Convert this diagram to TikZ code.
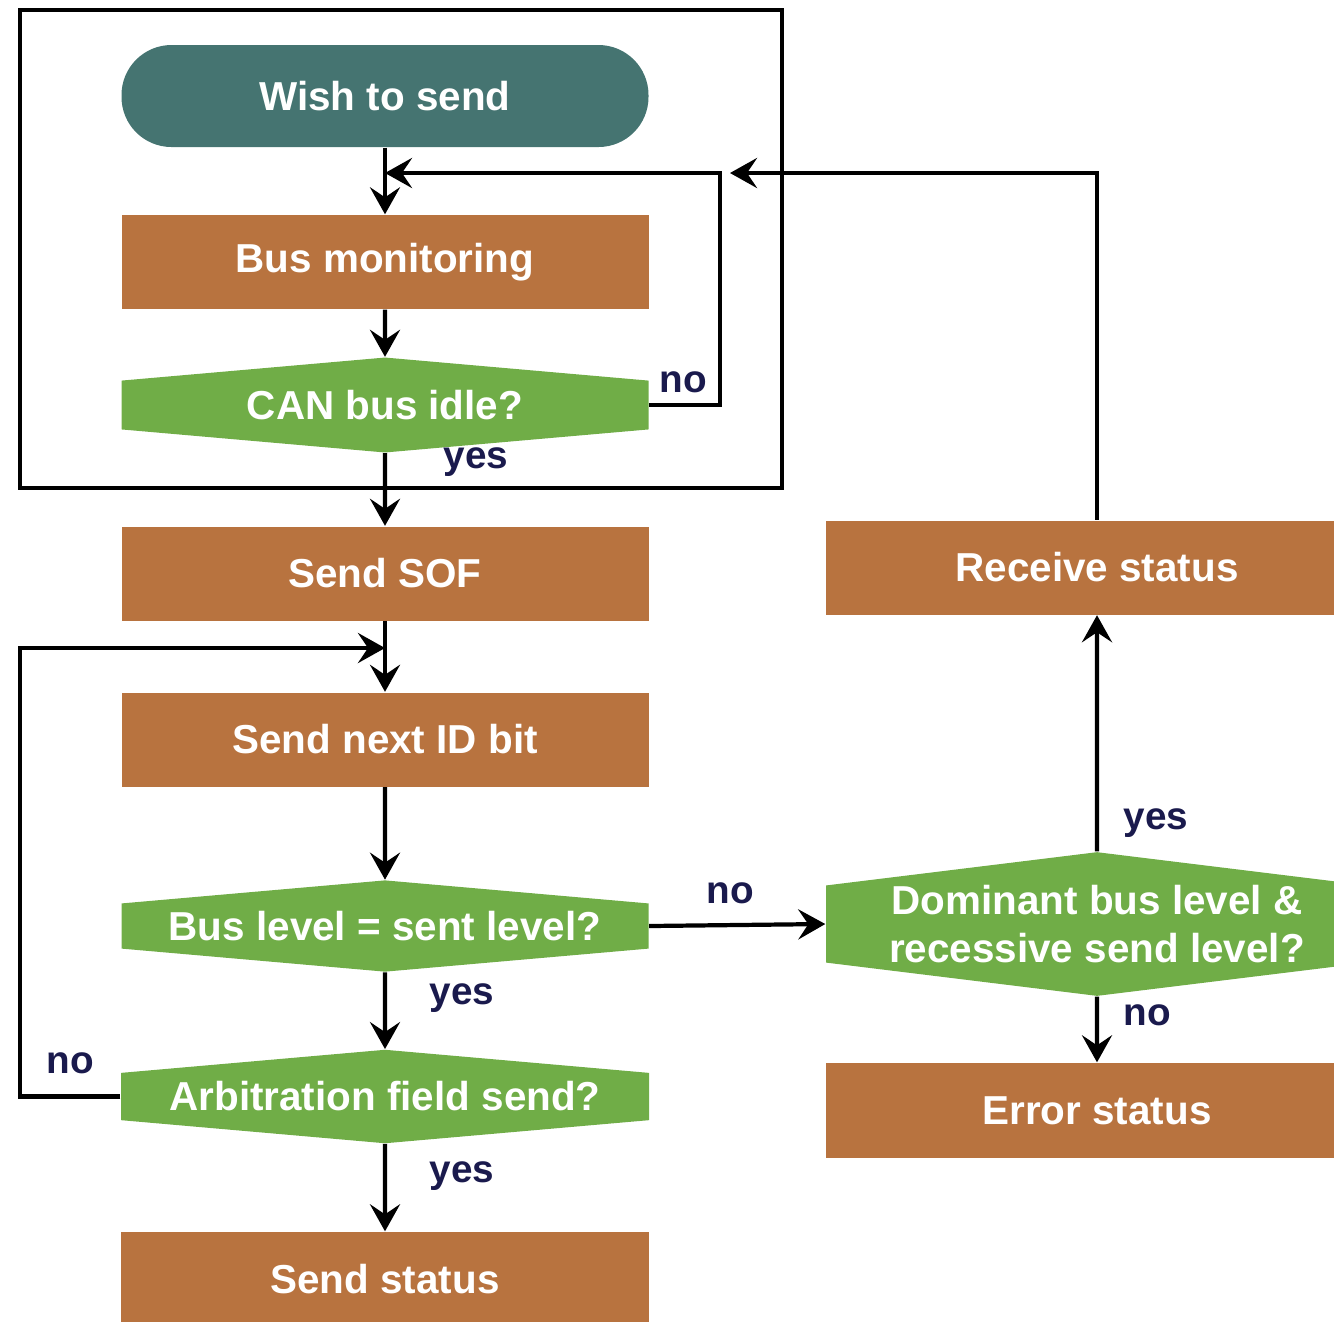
\documentclass[tikz,border=0pt]{standalone}
\usepackage{fontspec}
\setmainfont{Liberation Sans}
\usetikzlibrary{shapes.symbols,arrows.meta}
\definecolor{startcol}{RGB}{69,116,113}
\definecolor{stepcol}{RGB}{184,115,63}
\definecolor{askcol}{RGB}{112,173,71}
\definecolor{labelcol}{RGB}{26,26,77}
\tikzset{
  base/.style={text=white, font=\fontsize{11.5}{13.5}\selectfont\bfseries, inner sep=0pt},
  start/.style={base, fill=startcol, rounded corners=5mm, minimum width=5.27cm, minimum height=1.02cm},
  stepbox/.style={base, fill=stepcol, minimum width=5.27cm, minimum height=0.94cm},
  ask/.style={base, fill=askcol, signal, signal to=north and south, signal pointer angle=170,
    minimum width=5.27cm, minimum height=0.73cm, align=center},
  flow/.style={line width=1.2pt, -{Stealth[length=2.7mm, width=3mm, inset=1mm]}},
  frame/.style={line width=1.2pt},
  answer/.style={text=labelcol, font=\fontsize{11}{13}\selectfont\bfseries},
}
\begin{document}
\begin{tikzpicture}
  \clip (0,0) rectangle (13.34,-13.21);
  % left column
  \node[start] (wish) at (3.85,-0.96) {Wish to send};
  \node[stepbox] (monitor) at (3.85,-2.62) {Bus monitoring};
  \node[ask] (idle) at (3.85,-4.05) {CAN bus idle?};
  \node[stepbox] (sof) at (3.85,-5.735) {Send SOF};
  \node[stepbox] (nextbit) at (3.85,-7.395) {Send next ID bit};
  \node[ask, minimum height=0.83cm] (level) at (3.85,-9.26) {Bus level = sent level?};
  \node[ask, minimum width=5.28cm, minimum height=0.85cm] (arbit) at (3.85,-10.965) {Arbitration field send?};
  \node[stepbox, minimum width=5.28cm] (sendstat) at (3.85,-12.79) {Send status};
  % right column
  \node[stepbox, minimum width=5.42cm] (receive) at (10.97,-5.675) {Receive status};
  \node[ask, minimum width=5.42cm, minimum height=1.24cm, signal pointer angle=166] (dominant)
    at (10.97,-9.24) {Dominant bus level \&\\recessive send level?};
  \node[stepbox, minimum width=5.42cm, minimum height=0.95cm] (error) at (10.97,-11.105) {Error status};

  \coordinate (join1) at (3.85,-1.73);
  \coordinate (turn1) at (7.2,-1.73);
  \coordinate (entry1) at (7.3,-1.73);
  \coordinate (join2) at (3.85,-6.48);
  \coordinate (turn2) at (0.2,-6.48);

  \draw[frame] (0.2,-0.1) rectangle (7.82,-4.88);

  \draw[flow] (wish) -- (monitor);
  \draw[flow] (monitor) -- (idle);
  \draw[flow] (idle) -- (sof);
  \draw[flow] (idle.east) -| (turn1) -- (join1);
  \draw[flow] (receive.north) |- (entry1);
  \draw[flow] (sof) -- (nextbit);
  \draw[flow] (nextbit) -- (level);
  \draw[flow] (level) -- (arbit);
  \draw[flow] (arbit) -- (sendstat);
  \draw[flow] (arbit.west) -| (turn2) -- (join2);
  \draw[flow] (level.east) -- (dominant.west);
  \draw[flow] (dominant) -- (receive);
  \draw[flow] (dominant) -- (error);

  \node[answer] (idleno) at (6.83,-3.82) {no};
  \node[answer] (idleyes) at (4.76,-4.62) {yes};
  \node[answer] (levelno) at (7.30,-8.93) {no};
  \node[answer] (levelyes) at (4.62,-9.98) {yes};
  \node[answer] (arbitno) at (0.70,-10.63) {no};
  \node[answer] (arbityes) at (4.62,-11.76) {yes};
  \node[answer] (domyes) at (11.56,-8.23) {yes};
  \node[answer] (domno) at (11.47,-10.15) {no};
\end{tikzpicture}
\end{document}
